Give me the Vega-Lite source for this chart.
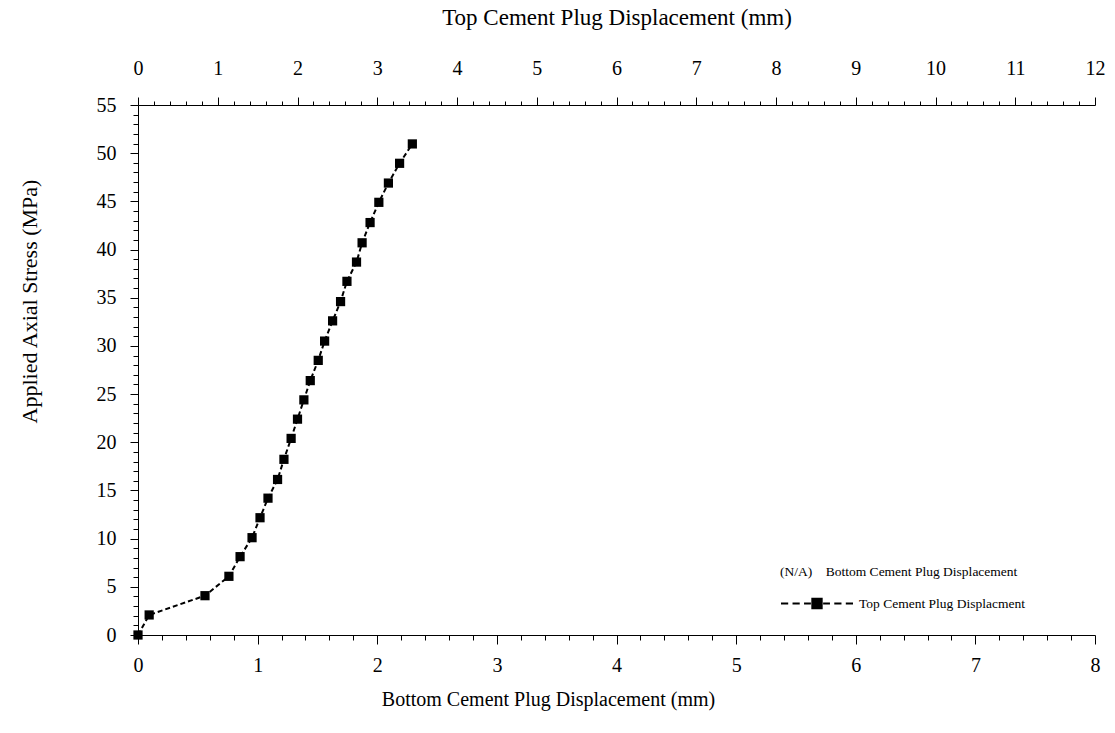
{
  "$schema": "https://vega.github.io/schema/vega-lite/v6.json",
  "autosize": "none",
  "width": 957,
  "height": 530,
  "padding": {"left": 138, "top": 105, "right": 20, "bottom": 98},
  "background": "white",
  "config": {
    "view": {"stroke": null},
    "font": "Liberation Serif",
    "axis": {
      "domainColor": "black",
      "tickColor": "black",
      "labelColor": "black",
      "titleColor": "black",
      "labelFont": "Liberation Serif",
      "titleFont": "Liberation Serif",
      "titleFontWeight": "normal",
      "labelFontSize": 20,
      "titleFontSize": 20,
      "grid": false,
      "labelOverlap": false,
      "labelFlush": false,
      "labelBound": false
    }
  },
  "data": {
    "values": [
      {"top_mm": 0.0, "stress": 0.0},
      {"top_mm": 0.14, "stress": 2.08},
      {"top_mm": 0.84, "stress": 4.08},
      {"top_mm": 1.14, "stress": 6.09},
      {"top_mm": 1.28, "stress": 8.13},
      {"top_mm": 1.43, "stress": 10.1},
      {"top_mm": 1.53, "stress": 12.17},
      {"top_mm": 1.63, "stress": 14.2},
      {"top_mm": 1.75, "stress": 16.14},
      {"top_mm": 1.83, "stress": 18.23},
      {"top_mm": 1.92, "stress": 20.4},
      {"top_mm": 2.0, "stress": 22.4},
      {"top_mm": 2.08, "stress": 24.4},
      {"top_mm": 2.16, "stress": 26.4},
      {"top_mm": 2.26, "stress": 28.5},
      {"top_mm": 2.34, "stress": 30.5},
      {"top_mm": 2.44, "stress": 32.6},
      {"top_mm": 2.54, "stress": 34.6},
      {"top_mm": 2.62, "stress": 36.7},
      {"top_mm": 2.74, "stress": 38.7},
      {"top_mm": 2.81, "stress": 40.7},
      {"top_mm": 2.91, "stress": 42.8},
      {"top_mm": 3.02, "stress": 44.9},
      {"top_mm": 3.14, "stress": 46.9},
      {"top_mm": 3.28, "stress": 48.95},
      {"top_mm": 3.44, "stress": 50.96}
    ]
  },
  "encoding": {
    "y": {
      "field": "stress",
      "type": "quantitative",
      "scale": {"domain": [0, 55], "nice": false, "zero": true},
      "axis": {
        "title": "Applied Axial Stress (MPa)",
        "titleFontSize": 22,
        "titlePadding": 55,
        "titleY": 196,
        "format": "~g",
        "values": [0,1,2,3,4,5,6,7,8,9,10,11,12,13,14,15,16,17,18,19,20,21,22,23,24,25,26,27,28,29,30,31,32,33,34,35,36,37,38,39,40,41,42,43,44,45,46,47,48,49,50,51,52,53,54,55],
        "labelExpr": "datum.value % 5 === 0 ? datum.label : ''",
        "tickSize": {"condition": {"test": "datum.value % 5 === 0", "value": 8}, "value": 5},
        "labelPadding": 14
      }
    }
  },
  "layer": [
    {
      "encoding": {
        "x": {
          "field": "top_mm",
          "type": "quantitative",
          "scale": {"domain": [0, 12], "nice": false},
          "axis": {
            "orient": "top",
            "title": "Top Cement Plug Displacement  (mm)",
            "titleFontSize": 23,
            "titlePadding": 29,
            "format": "~g",
            "values": [0,0.2,0.4,0.6,0.8,1,1.2,1.4,1.6,1.8,2,2.2,2.4,2.6,2.8,3,3.2,3.4,3.6,3.8,4,4.2,4.4,4.6,4.8,5,5.2,5.4,5.6,5.8,6,6.2,6.4,6.6,6.8,7,7.2,7.4,7.6,7.8,8,8.2,8.4,8.6,8.8,9,9.2,9.4,9.6,9.8,10,10.2,10.4,10.6,10.8,11,11.2,11.4,11.6,11.8,12],
            "labelExpr": "datum.value % 1 === 0 ? datum.label : ''",
            "tickSize": {"condition": {"test": "datum.value % 1 === 0", "value": 8}, "value": 4},
            "labelPadding": 19
          }
        }
      },
      "layer": [
        {
          "mark": {"type": "line", "color": "black", "strokeWidth": 2, "strokeDash": [5, 3]},
          "encoding": {}
        },
        {
          "mark": {"type": "square", "filled": true, "size": 85, "opacity": 1},
          "encoding": {
            "color": {
              "datum": "Top Cement Plug Displacment",
              "type": "nominal",
              "scale": {"range": ["black"]},
              "legend": {
                "orient": "none",
                "legendX": 642,
                "legendY": 460,
                "title": "(N/A)\u00a0\u00a0\u00a0 Bottom Cement Plug Displacement",
                "titleFont": "Liberation Serif",
                "titleFontSize": 13.5,
                "titleFontWeight": "normal",
                "titleColor": "black",
                "titleLimit": 500,
                "titlePadding": -12,
                "labelFont": "Liberation Serif",
                "labelFontSize": 13.5,
                "labelColor": "black",
                "labelLimit": 500,
                "labelOffset": 5,
                "symbolType": "M-1,0H-0.8M-0.68,0H-0.48M-0.36,0H-0.17M-0.13,-0.13H0.13V0.13H-0.13ZM0.17,0H0.36M0.48,0H0.68M0.8,0H1",
                "symbolSize": 5184,
                "symbolStrokeColor": "black",
                "symbolStrokeWidth": 2,
                "padding": 0
              }
            }
          }
        }
      ]
    },
    {
      "mark": {"type": "point", "opacity": 0},
      "encoding": {
        "x": {
          "field": "bottom_mm",
          "type": "quantitative",
          "scale": {"domain": [0, 8], "nice": false},
          "axis": {
            "orient": "bottom",
            "title": "Bottom Cement Plug Displacement  (mm)",
            "titlePadding": 14,
            "titleX": 410,
            "format": "~g",
            "values": [0,0.2,0.4,0.6,0.8,1,1.2,1.4,1.6,1.8,2,2.2,2.4,2.6,2.8,3,3.2,3.4,3.6,3.8,4,4.2,4.4,4.6,4.8,5,5.2,5.4,5.6,5.8,6,6.2,6.4,6.6,6.8,7,7.2,7.4,7.6,7.8,8],
            "labelExpr": "datum.value % 1 === 0 ? datum.label : ''",
            "tickSize": {"condition": {"test": "datum.value % 1 === 0", "value": 9}, "value": 5},
            "labelPadding": 11
          }
        }
      }
    }
  ],
  "resolve": {"scale": {"x": "independent"}, "axis": {"x": "independent"}}
}
